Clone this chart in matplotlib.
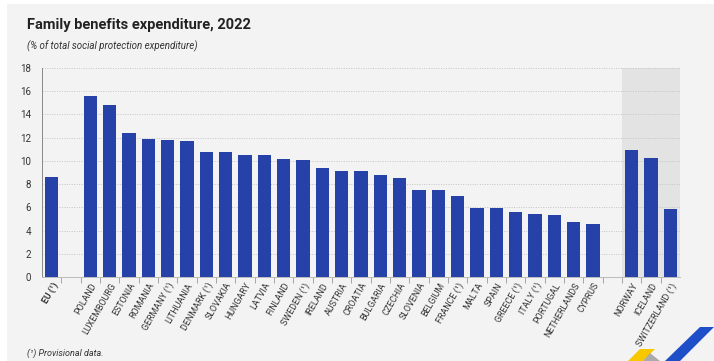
import matplotlib
matplotlib.use("Agg")
import matplotlib.pyplot as plt
from matplotlib.patches import Rectangle, Polygon
from matplotlib import font_manager

names = {f.name for f in font_manager.fontManager.ttflist}
narrow = 'Liberation Sans Narrow' if 'Liberation Sans Narrow' in names else 'Roboto'
plt.rcParams['font.family'] = [narrow, 'DejaVu Sans']

# data
eu_label = 'EU (¹)'
eu_value = 8.6
countries = ['POLAND', 'LUXEMBOURG', 'ESTONIA', 'ROMANIA', 'GERMANY (¹)', 'LITHUANIA',
             'DENMARK (¹)', 'SLOVAKIA', 'HUNGARY', 'LATVIA', 'FINLAND', 'SWEDEN (¹)',
             'IRELAND', 'AUSTRIA', 'CROATIA', 'BULGARIA', 'CZECHIA', 'SLOVENIA',
             'BELGIUM', 'FRANCE (¹)', 'MALTA', 'SPAIN', 'GREECE (¹)', 'ITALY (¹)',
             'PORTUGAL', 'NETHERLANDS', 'CYPRUS']
country_values = [15.6, 14.8, 12.4, 11.9, 11.8, 11.7, 10.8, 10.8, 10.55, 10.5, 10.2, 10.05,
                  9.4, 9.15, 9.1, 8.8, 8.5, 7.5, 7.45, 7.0, 5.95, 5.9, 5.6, 5.4,
                  5.3, 4.75, 4.6]
efta = ['NORWAY', 'ICELAND', 'SWITZERLAND (¹)']
efta_values = [10.95, 10.25, 5.85]

labels = [eu_label, ''] + countries + [''] + efta
values = [eu_value, None] + country_values + [None] + efta_values
xpos = list(range(len(labels)))

fig = plt.figure(figsize=(7.14, 3.61), dpi=100, facecolor='white')
fig.patches.append(Rectangle((7 / 714, 0), 1, 1 - 4 / 361, transform=fig.transFigure,
                             facecolor='#f3f3f3', edgecolor='none', zorder=-10))

ax = fig.add_axes([42 / 714, 1 - 277 / 361, 638 / 714, 209 / 361])
ax.set_facecolor('none')

bx = [x for x, v in zip(xpos, values) if v is not None]
bv = [v for v in values if v is not None]
ax.bar(bx, bv, width=0.7, color='#2642a8', zorder=3)

ax.axvspan(len(countries) + 2.5, len(labels) - 0.5, color='#e3e3e3', zorder=0, lw=0)

ax.set_xlim(-0.5, len(labels) - 0.5)
ax.set_ylim(0, 18)
ax.set_yticks(range(0, 19, 2))
ax.yaxis.grid(True, linestyle=(0, (1, 1.5)), color='#c4c4c4', linewidth=0.7, zorder=1)
ax.tick_params(axis='y', length=0, labelsize=7, labelcolor='#333333', pad=8)

ax.set_xticks(xpos)
ax.set_xticklabels(labels, rotation=60, ha='right', rotation_mode='anchor',
                   fontsize=6.4, color='#333333')
ax.get_xticklabels()[0].set_fontweight('bold')
ax.tick_params(axis='x', length=0, pad=3)
ax.set_xticks([x + 0.5 for x in xpos[:-1]], minor=True)
ax.tick_params(axis='x', which='minor', length=4, color='#999999', width=0.6)

for s in ['top', 'right']:
    ax.spines[s].set_visible(False)
ax.spines['left'].set_color('#888888')
ax.spines['left'].set_linewidth(0.7)
ax.spines['bottom'].set_color('#bbbbbb')
ax.spines['bottom'].set_linewidth(0.7)

fig.text(27 / 714, 1 - 25 / 361, 'Family benefits expenditure, 2022', fontsize=10.5,
         fontweight='bold', color='#222222', va='center')
fig.text(27 / 714, 1 - 46 / 361, '(% of total social protection expenditure)', fontsize=7,
         style='italic', color='#333333', va='center')
fig.text(27 / 714, 1 - 353 / 361, '(¹) Provisional data.', fontsize=6.5,
         style='italic', color='#333333', va='center')

# small logo in the corner
fig.patches.append(Polygon([(628 / 714, 0), (640 / 714, 12 / 361), (655 / 714, 12 / 361), (643 / 714, 0)],
                           closed=True, transform=fig.transFigure, facecolor='#f7c800', edgecolor='none'))
fig.patches.append(Polygon([(643 / 714, 0), (650 / 714, 8 / 361), (660 / 714, 0)],
                           closed=True, transform=fig.transFigure, facecolor='#aaaaaa', edgecolor='none'))
fig.patches.append(Polygon([(665 / 714, 0), (700 / 714, 34 / 361), (714 / 714, 34 / 361), (680 / 714, 0)],
                           closed=True, transform=fig.transFigure, facecolor='#1f4fc8', edgecolor='none'))

fig.savefig('out.png', dpi=100, facecolor=fig.get_facecolor())
